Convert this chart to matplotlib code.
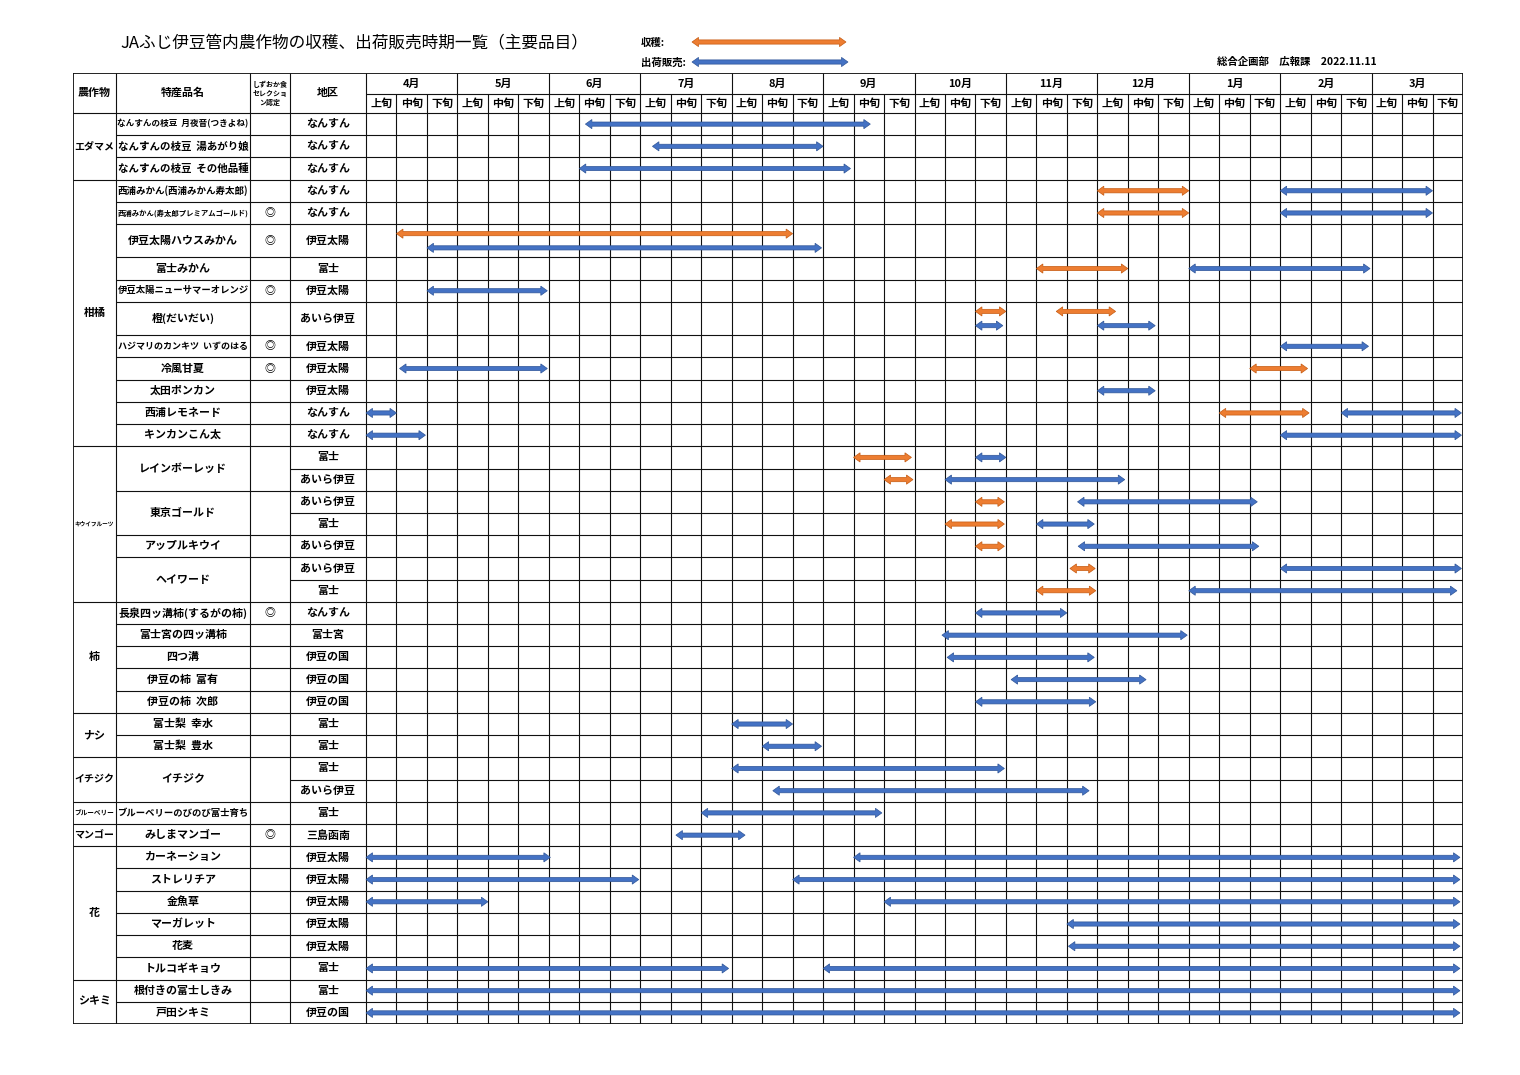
import matplotlib
matplotlib.use('Agg')
import matplotlib.pyplot as plt
from matplotlib.patches import Polygon
import numpy as np

plt.rcParams['font.family'] = ['Noto Sans CJK JP', 'DejaVu Sans']

#%% data
title = 'JAふじ伊豆管内農作物の収穫、出荷販売時期一覧（主要品目）'
note = '総合企画部　広報課　2022.11.11'
legend_labels = ['収穫:', '出荷販売:']

months = ['4月', '5月', '6月', '7月', '8月', '9月',
          '10月', '11月', '12月', '1月', '2月', '3月']
periods = ['上旬', '中旬', '下旬']

crops = ['エダマメ', '柑橘', 'キウイフルーツ', '柿', 'ナシ', 'イチジク',
         'ブルーベリー', 'マンゴー', '花', 'シキミ']
crop_rows = [3, 11, 7, 5, 2, 2, 1, 1, 6, 2]

items = ['なんすんの枝豆  月夜音(つきよね)', 'なんすんの枝豆  湯あがり娘',
         'なんすんの枝豆  その他品種', '西浦みかん(西浦みかん寿太郎)',
         '西浦みかん(寿太郎プレミアムゴールド)', '伊豆太陽ハウスみかん', '富士みかん',
         '伊豆太陽ニューサマーオレンジ', '橙(だいだい)', 'ハジマリのカンキツ  いずのはる',
         '冷風甘夏', '太田ポンカン', '西浦レモネード', 'キンカンこん太',
         'レインボーレッド', '東京ゴールド', 'アップルキウイ', 'ヘイワード',
         '長泉四ッ溝柿(するがの柿)', '富士宮の四ッ溝柿', '四つ溝', '伊豆の柿  富有',
         '伊豆の柿  次郎', '富士梨  幸水', '富士梨  豊水', 'イチジク',
         'ブルーベリーのびのび富士育ち', 'みしまマンゴー',
         'カーネーション', 'ストレリチア', '金魚草', 'マーガレット', '花麦',
         'トルコギキョウ', '根付きの富士しきみ', '戸田シキミ']
item_rows = [1] * 14 + [2, 2, 1, 2] + [1] * 7 + [2] + [1] * 10
selection = ['', '', '', '', '◎', '◎', '', '◎', '', '◎', '◎', '', '', '',
             '', '', '', '',
             '◎', '', '', '', '', '', '', '', '', '◎',
             '', '', '', '', '', '', '', '']

areas = ['なんすん', 'なんすん', 'なんすん', 'なんすん', 'なんすん',
         '伊豆太陽', '富士', '伊豆太陽', 'あいら伊豆', '伊豆太陽', '伊豆太陽',
         '伊豆太陽', 'なんすん', 'なんすん',
         '富士', 'あいら伊豆', 'あいら伊豆', '富士', 'あいら伊豆', 'あいら伊豆', '富士',
         'なんすん', '富士宮', '伊豆の国', '伊豆の国', '伊豆の国',
         '富士', '富士', '富士', 'あいら伊豆', '富士', '三島函南',
         '伊豆太陽', '伊豆太陽', '伊豆太陽', '伊豆太陽', '伊豆太陽', '富士',
         '富士', '伊豆の国']

# periods in 旬 units counted from 4月上旬 = 0, one list per row
harvest = [[], [], [],
           [(24, 27)], [(24, 27)], [(1, 14)], [(22, 25)], [],
           [(20, 21), (22.65, 24.6)], [], [(29, 30.9)], [],
           [(28, 30.95)], [],
           [(16, 17.9)], [(17, 17.95)], [(20, 20.95)], [(19, 20.95)],
           [(20, 20.95)], [(23.1, 23.93)], [(22, 23.95)],
           [], [], [], [], [],
           [], [], [], [], [], [],
           [], [], [], [], [], [],
           [], []]
shipping = [[(7.2, 16.55)], [(9.4, 15.0)], [(7.0, 15.9)],
            [(30, 35)], [(30, 35)], [(2, 14.95)], [(27, 32.95)], [(2, 5.95)],
            [(20, 20.9), (24, 25.9)], [(30, 32.9)], [(1.1, 5.95)], [(24, 25.9)],
            [(0, 1), (32, 35.95)], [(0, 1.95), (30, 35.95)],
            [(20, 21)], [(19, 24.9)], [(23.35, 29.25)], [(22, 23.9)],
            [(23.37, 29.3)], [(30, 35.95)], [(27, 35.8)],
            [(20, 23)], [(18.9, 26.95)], [(19.07, 23.9)], [(21.17, 25.6)],
            [(20, 23.95)],
            [(12, 14)], [(13, 14.95)], [(12, 20.95)], [(13.35, 23.73)],
            [(11, 16.93)], [(10.17, 12.44)],
            [(0, 6.05), (16, 35.9)], [(0, 8.95), (14, 35.9)],
            [(0, 4), (17, 35.9)], [(23, 35.9)], [(23.05, 35.9)],
            [(0, 11.9), (15, 35.9)],
            [(0, 35.9)], [(0, 35.9)]]

#%% layout
W, H = 1520, 1075
orange, orange_edge = '#ED7D31', '#C55A11'
blue, blue_edge = '#4472C4', '#2F5597'
tall_items = {'伊豆太陽ハウスみかん', '橙(だいだい)'}

unit = (1463 - 366) / 36.0          # px per 旬
col_px = [43, 134, 40, 76]          # 農作物, 特産品名, しずおか, 地区
col_edges = -np.cumsum(col_px[::-1])[::-1] / unit
col_edges = np.append(col_edges, 0.0)   # left edges ... timeline start
head_top, head_split = -1.8, -0.86

row_h = []
for name, n in zip(items, item_rows):
    row_h += [1.5 if name in tall_items else 1.0] * n
row_h = np.array(row_h)
row_bot = np.cumsum(row_h)
row_top = row_bot - row_h
row_mid = (row_top + row_bot) / 2
n_rows = len(row_h)
n_cols = 3 * len(months)

fig = plt.figure(figsize=(W / 100, H / 100), dpi=100)
bg = fig.add_axes([0, 0, 1, 1])
bg.set_xlim(0, W)
bg.set_ylim(H, 0)
bg.axis('off')

ax = fig.add_axes([73 / W, 1 - 1024 / H, (1463 - 73) / W, (1024 - 73) / H])
ax.set_xlim(col_edges[0], n_cols)
ax.set_ylim(row_bot[-1], head_top)
ax.axis('off')

renderer = fig.canvas.get_renderer()


def double_arrow(a, x0, x1, y, face, edge):
    p0, p1 = a.transData.transform([(0, 0), (1, 1)])
    ux, uy = abs(p1[0] - p0[0]), abs(p1[1] - p0[1])
    hl, hw, sw = 6.5 / ux, 4.6 / uy, 2.1 / uy
    v = [(x0, y), (x0 + hl, y - hw), (x0 + hl, y - sw), (x1 - hl, y - sw),
         (x1 - hl, y - hw), (x1, y), (x1 - hl, y + hw), (x1 - hl, y + sw),
         (x0 + hl, y + sw), (x0 + hl, y + hw)]
    a.add_patch(Polygon(v, closed=True, fc=face, ec=edge, lw=0.5, zorder=5))


def cell_text(x, y, s, width_px, size=7.9, **kw):
    t = ax.text(x, y, s, ha='center', va='center', fontsize=size,
                fontweight='bold', zorder=6, **kw)
    w = t.get_window_extent(renderer=renderer).width
    if w > width_px:
        t.set_fontsize(size * width_px / w)
    return t


lc = '#111111'
lw = 0.8

#%% grid lines
item_ends = set(np.cumsum(item_rows))
crop_ends = set(np.cumsum(crop_rows))
for i in range(1, n_rows):
    if i in crop_ends:
        x0 = col_edges[0]
    elif i in item_ends:
        x0 = col_edges[1]
    else:
        x0 = col_edges[3]
    ax.hlines(row_top[i], x0, n_cols, color=lc, lw=lw)
ax.hlines(0, col_edges[0], n_cols, color=lc, lw=lw)
ax.hlines(head_split, 0, n_cols, color=lc, lw=lw)
for e in col_edges[1:]:
    ax.vlines(e, head_top, row_bot[-1], color=lc, lw=lw)
for k in range(1, n_cols):
    y0 = head_top if k % 3 == 0 else head_split
    ax.vlines(k, y0, row_bot[-1], color=lc, lw=lw)
ax.add_patch(plt.Rectangle((col_edges[0], head_top), n_cols - col_edges[0],
                           row_bot[-1] - head_top, fill=False, ec=lc, lw=1.3,
                           zorder=4))

#%% header
mid_cols = (col_edges[:-1] + col_edges[1:]) / 2
hy = head_top / 2
cell_text(mid_cols[0], hy, '農作物', col_px[0] - 3)
cell_text(mid_cols[1], hy, '特産品名', col_px[1] - 3)
ax.text(mid_cols[2], hy, 'しずおか食\nセレクショ\nン認定', ha='center', va='center',
        fontsize=5.0, fontweight='bold', linespacing=1.35)
cell_text(mid_cols[3], hy, '地区', col_px[3] - 3)
for m, name in enumerate(months):
    cell_text(3 * m + 1.5, (head_top + head_split) / 2, name, 3 * unit)
for k in range(n_cols):
    cell_text(k + 0.5, head_split / 2, periods[k % 3], unit - 2)

#%% left columns
start = 0
for name, n in zip(crops, crop_rows):
    y = (row_top[start] + row_bot[start + n - 1]) / 2
    cell_text(mid_cols[0], y, name, col_px[0] - 3)
    start += n
start = 0
for name, n, sel in zip(items, item_rows, selection):
    y = (row_top[start] + row_bot[start + n - 1]) / 2
    cell_text(mid_cols[1], y, name, col_px[1] - 3)
    if sel:
        cell_text(mid_cols[2], y, sel, col_px[2] - 4)
    start += n
for i, name in enumerate(areas):
    cell_text(mid_cols[3], row_mid[i], name, col_px[3] - 4)

#%% arrows
for i in range(n_rows):
    both = row_h[i] > 1.2
    for x0, x1 in harvest[i]:
        double_arrow(ax, x0, x1, row_mid[i] - (0.32 if both else 0), orange, orange_edge)
    for x0, x1 in shipping[i]:
        double_arrow(ax, x0, x1, row_mid[i] + (0.32 if both else 0), blue, blue_edge)

#%% title, legend, note
bg.text(120, 43, title, ha='left', va='center', fontsize=12)
bg.text(641, 43, legend_labels[0], ha='left', va='center', fontsize=7.5,
        fontweight='bold')
bg.text(641, 63, legend_labels[1], ha='left', va='center', fontsize=7.5,
        fontweight='bold')
double_arrow(bg, 692, 846, 42, orange, orange_edge)
double_arrow(bg, 692, 848, 62, blue, blue_edge)
bg.text(1377, 62, note, ha='right', va='center', fontsize=7.5, fontweight='bold')

fig.savefig('out.png', dpi=100)
